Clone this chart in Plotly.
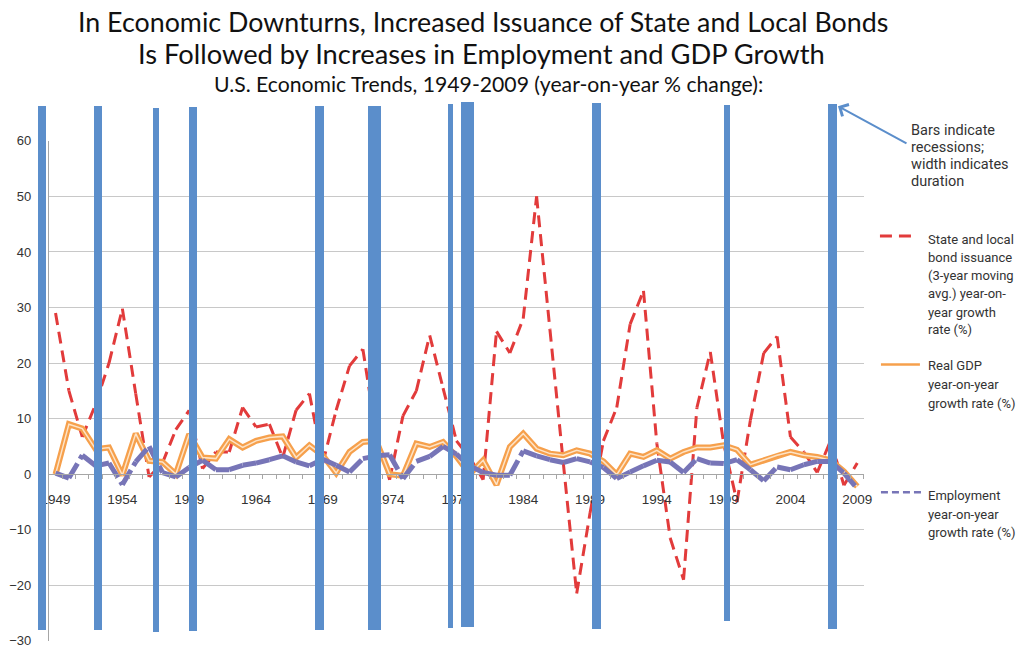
import plotly.graph_objects as go

YEARS = list(range(1949, 2010))

BOND_GROWTH = [
    29, 15, 6.7, 12.6, 20, 29.8, 14.5, -0.5, 2, 8,
    11.5, 1, 4, 4, 12, 8.5, 9, 3, 11.5, 14.5,
    2, 11.5, 19.5, 22.5, 7, -1, 10.5, 15, 25, 15.5,
    6, 3, -1, 25.7, 21.8, 28, 50, 26, 2, -21.5,
    -7, 6, 12, 27, 33, 5.5, -11.5, -19, 12, 22,
    5.5, -5, 9.7, 21.8, 24.8, 6.7, 4, 0.3, 6, -2,
    2,
]

GDP_GROWTH = [
    0, 9, 8.2, 4.5, 4.8, -0.2, 7.3, 2.4, 2.2, 0,
    7.2, 3, 2.8, 6.3, 4.8, 6, 6.6, 6.8, 3, 5.2,
    3.4, 0.2, 4, 5.8, 6, 0, -0.3, 5.5, 4.9, 5.8,
    3.2, 0, 2.5, -1.9, 4.9, 7.3, 4.6, 3.7, 3.4, 4.3,
    3.7, 2.3, -0.1, 3.7, 3.1, 4.3, 2.8, 4, 4.8, 4.8,
    5.2, 4.4, 1.7, 2.5, 3.4, 4, 3.4, 3.1, 2.5, 0.5,
    -2.2,
]

EMPLOYMENT_GROWTH = [
    0.2, -0.7, 3.4, 1.5, 2, -1.9, 2.2, 5, 0.3, -0.5,
    1.2, 2.5, 0.8, 0.8, 1.6, 2, 2.6, 3.3, 2.2, 1.5,
    2.7, 1.6, 0.4, 2.8, 3.3, 3.5, -0.8, 2.3, 3.2, 5,
    3.6, 1.5, 0.3, -0.2, -0.2, 4.2, 3.3, 2.6, 2.1, 2.8,
    2.2, 1.2, -0.8, 0.4, 1.5, 2.5, 2.2, 0.3, 2.8, 2,
    1.9, 2.6, 0.8, -1.2, 1.3, 0.8, 1.7, 2.3, 2.3, 0.2,
    -2.6,
]

# recession bars: centre (year), width (years), top / bottom (%)
RECESSION_MID = [1947.98, 1952.2, 1956.52, 1959.25, 1968.74, 1972.86,
                 1978.54, 1979.85, 1989.46, 1999.25, 2007.15]
RECESSION_WIDTH = [0.55, 0.6, 0.47, 0.6, 0.7, 1.0, 0.4, 0.97, 0.67, 0.52, 0.62]
RECESSION_TOP = [66.3, 66.3, 66.0, 66.1, 66.3, 66.3, 66.7, 67.0, 66.8, 66.4, 66.6]
RECESSION_BOTTOM = [-28.1, -28.1, -28.5, -28.2, -28.1, -28.1, -27.7, -27.6,
                    -27.9, -26.5, -27.9]

X_TICKS = list(range(1949, 2010, 5))

W, H = 1017, 657
TICK_FONT = "Liberation Sans, Arial, sans-serif"
NOTE_FONT = "Roboto, Helvetica, Arial, sans-serif"
TITLE_FONT = "Lato, Calibri, sans-serif"

RED = "#e23b3b"
ORANGE = "#f6a04c"
PURPLE = "#7775b7"
BLUE = "#5b8ecb"
GRID = "#c8c8c8"

# the snapshot comes back with a thin white border (slightly shrunk);
# positions below are measured on the target, so map them back
OX, OY, SX, SY = 7.4, 7.8, 0.985, 0.987


def fx(px):
    return (px - OX) / SX / W


def fy(px):
    return 1 - (px - OY) / SY / H


# plot area measured on the target (x: 1948.5..2009.5, y: -30..60);
# bottom kept a touch high so the -30 label stays inside the page
x_dom = [fx(48.3), fx(864)]
y_dom = [fy(648), fy(143)]
x_rng = [YEARS[0] - 0.5, YEARS[-1] + 0.5]
y_rng = [-30, 60]

# second, full-page axes with the same scale, for the recession bars
x_per_paper = (x_rng[1] - x_rng[0]) / (x_dom[1] - x_dom[0])
y_per_paper = (y_rng[1] - y_rng[0]) / (y_dom[1] - y_dom[0])
x2_rng = [x_rng[0] - x_dom[0] * x_per_paper, x_rng[1] + (1 - x_dom[1]) * x_per_paper]
y2_rng = [y_rng[0] - y_dom[0] * y_per_paper, y_rng[1] + (1 - y_dom[1]) * y_per_paper]
zero_pos = y_dom[0] + (0 - y_rng[0]) / y_per_paper


def segmented(xs, ys):
    # one sub-path per segment so the dash pattern restarts at every point
    sx, sy = [], []
    for i in range(len(xs) - 1):
        sx += [xs[i], xs[i + 1], None]
        sy += [ys[i], ys[i + 1], None]
    return sx, sy


fig = go.Figure()

bx, by = segmented(YEARS, BOND_GROWTH)
fig.add_trace(go.Scatter(
    x=bx, y=by, mode="lines", connectgaps=False,
    line=dict(color=RED, width=3, dash="12px,7px"),
    name="State and local bond issuance",
))

fig.add_trace(go.Scatter(
    x=YEARS, y=GDP_GROWTH, mode="lines",
    line=dict(color=ORANGE, width=6),
    name="Real GDP",
))
fig.add_trace(go.Scatter(
    x=YEARS, y=GDP_GROWTH, mode="lines",
    line=dict(color="#fde3c6", width=1.5),
    showlegend=False,
))

ex, ey = segmented(YEARS, EMPLOYMENT_GROWTH)
fig.add_trace(go.Scatter(
    x=ex, y=ey, mode="lines", connectgaps=False,
    line=dict(color=PURPLE, width=5, dash="17px,5px"),
    name="Employment",
))

fig.add_trace(go.Bar(
    x=RECESSION_MID,
    y=[t - b for t, b in zip(RECESSION_TOP, RECESSION_BOTTOM)],
    base=RECESSION_BOTTOM,
    width=RECESSION_WIDTH,
    marker=dict(color=BLUE, line=dict(width=0)),
    xaxis="x2", yaxis="y2",
    name="Recessions",
))

fig.update_layout(
    width=W, height=H,
    margin=dict(l=0, r=0, t=0, b=0),
    paper_bgcolor="white",
    plot_bgcolor="rgba(0,0,0,0)",
    showlegend=False,
    xaxis=dict(
        domain=x_dom, range=x_rng, anchor="free", position=zero_pos,
        showgrid=False, zeroline=False,
        showline=True, linecolor="#a6a6a6", linewidth=1,
        tickmode="array", tickvals=X_TICKS,
        ticks="", ticklabelstandoff=13,
        minor=dict(
            tickmode="array",
            tickvals=[y + 0.5 for y in [YEARS[0] - 1] + YEARS],
            ticks="outside", ticklen=4, tickcolor="#a6a6a6", showgrid=False,
        ),
        tickfont=dict(family=TICK_FONT, size=13.5, color="#333333"),
        fixedrange=True,
    ),
    yaxis=dict(
        domain=y_dom, range=y_rng, anchor="x",
        tickmode="linear", tick0=-30, dtick=10,
        showgrid=True, gridcolor=GRID, gridwidth=1,
        zeroline=False,
        showline=True, linecolor="#a6a6a6", linewidth=1,
        ticks="", ticklabelstandoff=14,
        tickfont=dict(family=TICK_FONT, size=13, color="#333333"),
        fixedrange=True,
    ),
    xaxis2=dict(domain=[0, 1], range=x2_rng, anchor="y2", visible=False,
                fixedrange=True),
    yaxis2=dict(domain=[0, 1], range=y2_rng, anchor="x2", visible=False,
                fixedrange=True),
    bargap=0,
)

titles = [
    ("In Economic Downturns, Increased Issuance of State and Local Bonds", 483, 23, 26.8),
    ("Is Followed by Increases in Employment and GDP Growth", 481, 55, 27.3),
    ("U.S. Economic Trends, 1949-2009 (year-on-year % change):", 488, 86, 21.2),
]
for text, cx, cy, size in titles:
    fig.add_annotation(
        text=text, xref="paper", yref="paper", x=fx(cx), y=fy(cy),
        xanchor="center", yanchor="middle", showarrow=False,
        font=dict(family=TITLE_FONT, size=size, color="#111111"),
    )

# side notes, one line at a time (text, left x, centre y, size)
note_lines = [
    ("Bars indicate", 909, 133, 14.5),
    ("recessions;", 909, 150, 14.5),
    ("width indicates", 909, 167, 14.5),
    ("duration", 909, 184, 14.5),
    ("State and local", 926, 243, 13),
    ("bond issuance", 926, 261, 13),
    ("(3-year moving", 926, 279, 13),
    ("avg.) year-on-", 926, 297.5, 13),
    ("year growth", 926, 316, 13),
    ("rate (%)", 926, 334, 13),
    ("Real GDP", 926, 370, 13),
    ("year-on-year", 926, 389, 13),
    ("growth rate (%)", 926, 408, 13),
    ("Employment", 926, 501.5, 13),
    ("year-on-year", 926, 520, 13),
    ("growth rate (%)", 926, 538.5, 13),
]
for text, lx, cy, size in note_lines:
    fig.add_annotation(
        text=text, xref="paper", yref="paper", x=fx(lx), y=fy(cy),
        xanchor="left", yanchor="middle", align="left", showarrow=False,
        font=dict(family=NOTE_FONT, size=size, color="#333333"),
    )

# arrow pointing at the last recession bar
fig.add_annotation(
    text="", xref="paper", yref="paper", x=fx(838), y=fy(108),
    ax=908 - 838, ay=146 - 108, axref="pixel", ayref="pixel",
    showarrow=True, arrowhead=4, arrowsize=1.3, arrowwidth=2,
    arrowcolor=BLUE,
)

# legend keys
keys = [
    (880, 912, 239, RED, 3, "12px,7px"),
    (881, 920, 369, ORANGE, 2.5, "solid"),
    (881, 924, 498, PURPLE, 2.5, "7px,4px"),
]
for x0, x1, yk, color, width, dash in keys:
    fig.add_shape(
        type="line", xref="paper", yref="paper",
        x0=fx(x0), x1=fx(x1), y0=fy(yk), y1=fy(yk),
        line=dict(color=color, width=width, dash=dash),
    )

# the figure fills the whole window, so drop the page's default body margin
fig.write_html(
    "out.html",
    config={"displayModeBar": False},
    post_script="document.body.style.margin = '0';",
)
